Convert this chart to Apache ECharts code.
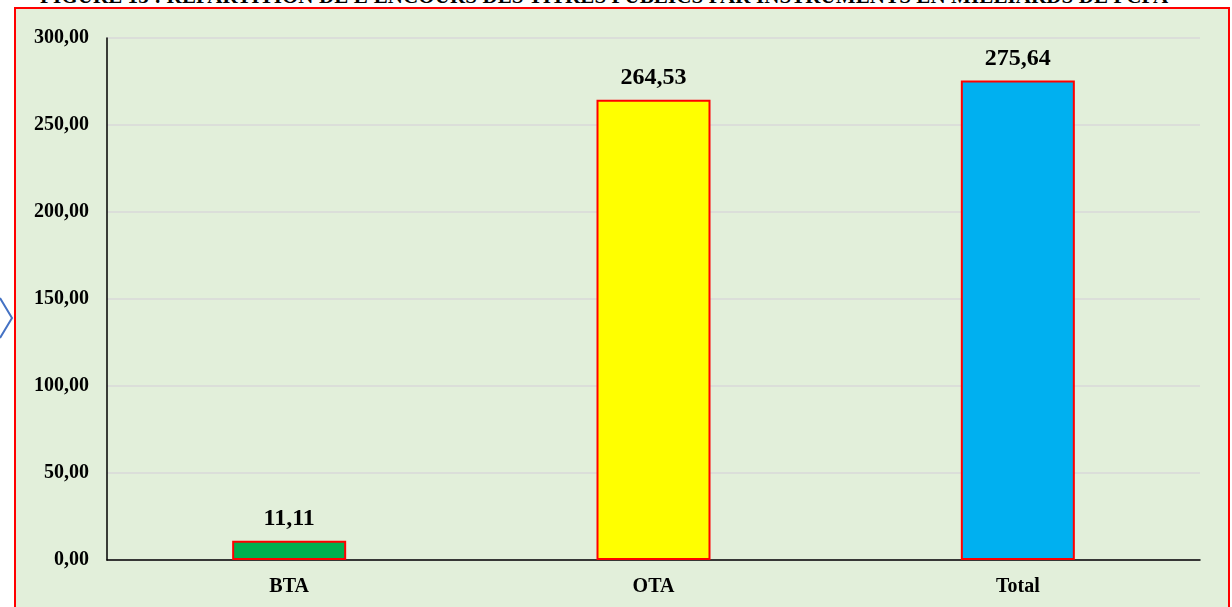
<!DOCTYPE html>
<html>
<head>
<meta charset="utf-8">
<title>Répartition de l'encours des titres publics</title>
<script src="https://cdn.jsdelivr.net/npm/echarts@6/dist/echarts.min.js"></script>
<style>
  html, body { margin: 0; padding: 0; background: #fff; overflow: hidden; }
  .titre {
    position: absolute; left: 40px; top: -16px; width: 1180px;
    font: bold 21px "Liberation Serif", "Times New Roman", serif;
    color: #000; white-space: nowrap; letter-spacing: 0.1px;
  }
  .cadre {
    position: absolute; left: 14px; top: 7px; width: 1212px; height: 640px;
    background: #e2efda; border: 2px solid #ff0000;
  }
  #chart { position: absolute; left: 0; top: 0; width: 1232px; height: 607px; }
</style>
</head>
<body>
<div class="titre">FIGURE 15 : REPARTITION DE L'ENCOURS DES TITRES PUBLICS PAR INSTRUMENTS EN MILLIARDS DE FCFA</div>
<div class="cadre"></div>
<div id="chart"></div>
<script>
// données
const categories = ['BTA', 'OTA', 'Total']
const encours = [11.11, 264.53, 275.64]
const couleurs = ['#00b050', '#ffff00', '#00b0f0']

const fmt = v => v.toFixed(2).replace('.', ',')

const chart = echarts.init(document.getElementById('chart'))

chart.setOption({
  backgroundColor: 'transparent',
  textStyle: { fontFamily: '"Liberation Serif", "Times New Roman", serif' },
  grid: { left: 107, top: 38, width: 1093, height: 522 },
  xAxis: {
    type: 'category',
    data: categories,
    axisLine: { lineStyle: { color: '#000', width: 1.5 } },
    axisTick: { show: false },
    axisLabel: { color: '#000', fontWeight: 'bold', fontSize: 20, margin: 17 }
  },
  yAxis: {
    type: 'value',
    min: 0,
    max: 300,
    interval: 50,
    axisLine: { show: true, lineStyle: { color: '#000', width: 1.5 } },
    axisTick: { show: false },
    splitLine: { lineStyle: { color: '#d9d9d9', width: 1.5 } },
    axisLabel: {
      color: '#000', fontWeight: 'bold', fontSize: 20, margin: 18,
      formatter: v => fmt(v)
    }
  },
  graphic: [
    {
      type: 'polyline',
      shape: { points: [[0, 298], [12, 318], [0, 338]] },
      style: { stroke: '#4472c4', lineWidth: 2, fill: 'none' }
    }
  ],
  series: [
    {
      type: 'bar',
      barWidth: 114,
      data: encours.map((v, i) => ({ value: v, itemStyle: { color: couleurs[i] } })),
      itemStyle: { borderColor: '#ff0000', borderWidth: 2 },
      label: {
        show: true,
        position: 'top',
        distance: 10,
        color: '#000',
        fontWeight: 'bold',
        fontSize: 24,
        formatter: p => fmt(p.value)
      }
    }
  ]
})
</script>
</body>
</html>
